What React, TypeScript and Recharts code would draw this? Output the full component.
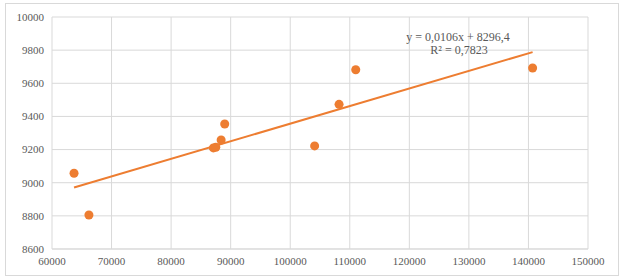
import { ScatterChart, Scatter, XAxis, YAxis, CartesianGrid } from 'recharts';

// observed points
const incomeValues = [63700, 66200, 87100, 87500, 88400, 89000, 104100, 108200, 111000, 140700];
const outputValues = [9057, 8805, 9210, 9214, 9258, 9354, 9222, 9473, 9682, 9692];

// linear trend endpoints (y = 0,0106x + 8296,4)
const trendX = [63700, 140700];
const trendY = [8971, 9788];

const xTicks = [60000, 70000, 80000, 90000, 100000, 110000, 120000, 130000, 140000, 150000];
const yTicks = [8600, 8800, 9000, 9200, 9400, 9600, 9800, 10000];

const equationText = 'y = 0,0106x + 8296,4';
const rSquaredText = 'R² = 0,7823';

const points = incomeValues.map((x, i) => ({ x, y: outputValues[i] }));
const trend = trendX.map((x, i) => ({ x, y: trendY[i] }));

const ORANGE = '#ED7D31';
const GRID = '#d9d9d9';
const TEXT = '#595959';
const FONT = '"Liberation Serif", "Times New Roman", serif';

export default function App() {
  return (
    <div style={{ position: 'absolute', left: 0, top: 0, width: 624, height: 280, background: '#fff' }}>
      <div
        style={{
          position: 'absolute',
          left: 5,
          top: 3,
          width: 612,
          height: 271,
          border: `1px solid ${GRID}`,
        }}
      />
      <ScatterChart
        width={624}
        height={280}
        margin={{ top: 17, right: 36, left: 0, bottom: 0 }}
        style={{ position: 'absolute', left: 0, top: 0 }}
      >
        <CartesianGrid stroke={GRID} strokeWidth={1} />
        <XAxis
          type="number"
          dataKey="x"
          domain={[60000, 150000]}
          ticks={xTicks}
          tickLine={false}
          axisLine={{ stroke: GRID }}
          tick={{ fontSize: 11, fill: TEXT, fontFamily: FONT }}
          height={31}
        />
        <YAxis
          type="number"
          dataKey="y"
          domain={[8600, 10000]}
          ticks={yTicks}
          tickLine={false}
          axisLine={false}
          width={52}
          tick={{ fontSize: 11, fill: TEXT, fontFamily: FONT }}
        />
        <Scatter
          data={trend}
          line={{ stroke: ORANGE, strokeWidth: 2 }}
          shape={() => null}
          isAnimationActive={false}
        />
        <Scatter data={points} fill={ORANGE} shape="circle" isAnimationActive={false}
          // @ts-ignore
          size={60}
        />
      </ScatterChart>
      <svg width={624} height={280} style={{ position: 'absolute', left: 0, top: 0, pointerEvents: 'none' }}>
        <text x={458} y={41} textAnchor="middle" fontSize={12} fill={TEXT} fontFamily={FONT}>
          {equationText}
        </text>
        <text x={459} y={54} textAnchor="middle" fontSize={12} fill={TEXT} fontFamily={FONT}>
          {rSquaredText}
        </text>
      </svg>
    </div>
  );
}
